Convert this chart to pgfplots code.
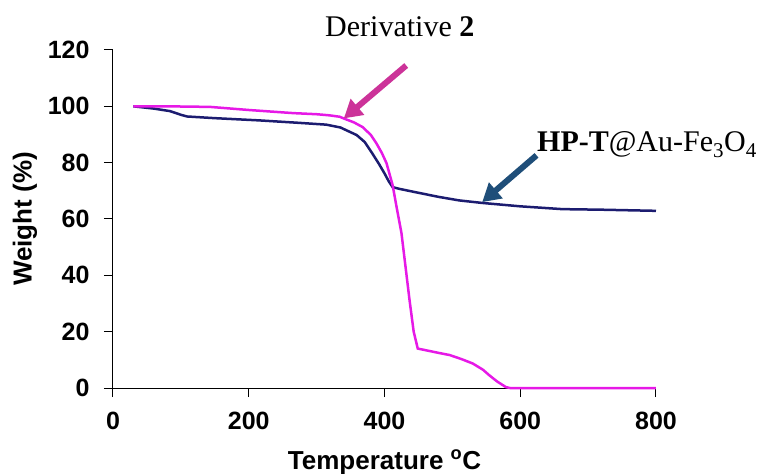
\documentclass[border=0pt]{standalone}
\usepackage{fontspec}
\setmainfont{Liberation Serif}
\setsansfont{Liberation Sans}
\usepackage{pgfplots}
\pgfplotsset{compat=1.18}
\usetikzlibrary{arrows.meta}
\definecolor{magline}{RGB}{230,25,230}
\definecolor{navyline}{RGB}{28,28,112}
\definecolor{magarrow}{RGB}{204,51,153}
\definecolor{navyarrow}{RGB}{31,78,121}
\begin{document}
\begin{tikzpicture}
\useasboundingbox (-113pt,-86pt) rectangle (659pt,388pt);
\begin{axis}[at={(0,0)},anchor=south west,
  scale only axis, width=543pt, height=338pt,
  xmin=0,xmax=800,ymin=0,ymax=120,
  axis x line*=bottom, axis y line*=left,
  tick align=outside, major tick length=9pt,
  xtick={0,200,...,800}, ytick={0,20,...,120},
  minor tick num=0,
  /pgf/number format/assume math mode=true,
  ticklabel style={font=\fontsize{25}{25}\selectfont\sffamily\bfseries},
  xticklabel style={yshift=-12pt},
  yticklabel style={xshift=-11pt},
  xlabel={Temperature \textsuperscript{o}C},
  ylabel={Weight (\%)},
  label style={font=\fontsize{26}{26}\selectfont\sffamily\bfseries},
  xlabel style={at={(axis description cs:0.5,0)}, anchor=base, yshift=-81pt, inner sep=0pt},
  ylabel style={at={(axis description cs:-0.162,0.5)}, anchor=center, inner sep=0pt},
  axis line style={line width=1pt},
  tick style={line width=1pt, black},
  clip=false]
\addplot[navyline, line width=2.5pt] coordinates {
(30,100) (60,99.2) (84,98.3) (100,97) (109,96.4) (150,95.8) (216,95) (270,94.2)
(314,93.5) (335,92.5) (359,89.8) (371,87.3) (382,83.3) (392,79.5) (400,76.2)
(406,73.5) (412,71.3) (422,70.7) (450,69.3) (481,67.8) (510,66.6) (544,65.7)
(600,64.5) (662,63.5) (720,63.3) (800,62.9)};
\addplot[magline, line width=2.5pt] coordinates {
(30,100) (80,100) (143,99.8) (200,98.7) (265,97.6) (300,97.2) (319,96.8)
(334,96.3) (341,95.6) (355,94.3) (368,92.6) (380,89.8) (388,86.9) (396,83.5)
(403,79.8) (412,72) (418,64) (425,55) (431,43) (437,31) (443,20) (449,14)
(465,13.2) (481,12.4) (496,11.7) (513,10.3) (530,8.7) (545,6.5) (554,4.6)
(566,2.3) (579,0.3) (585,0) (800,0)};
\draw[magarrow, line width=6pt, -{Triangle[length=18pt,width=20pt]}] (axis cs:432,114.5) -- (axis cs:340,95.7);
\draw[navyarrow, line width=6pt, -{Triangle[length=18pt,width=20pt]}] (axis cs:624,82.6) -- (axis cs:544,66);
\end{axis}
\node[anchor=base west, inner sep=0pt, font=\fontsize{30}{36}\selectfont] at (212pt,351pt) {Derivative \textbf{2}};
\node[anchor=base west, inner sep=0pt, font=\fontsize{30}{36}\selectfont] at (424pt,236pt) {\textbf{HP-T}@Au-Fe\textsubscript{3}O\textsubscript{4}};
\end{tikzpicture}
\end{document}
